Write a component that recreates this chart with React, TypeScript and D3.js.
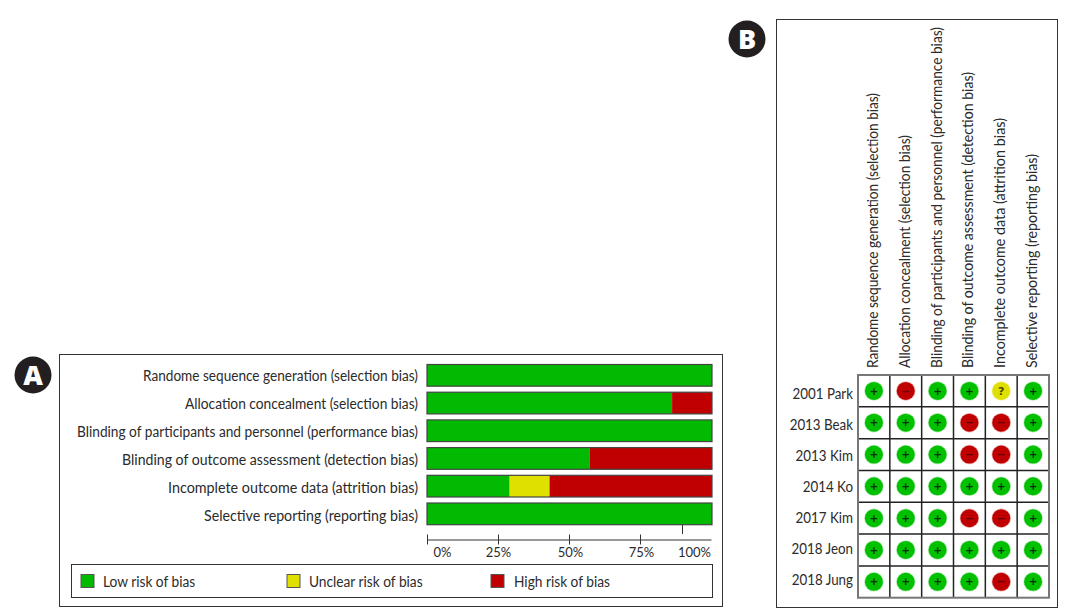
import React, { useEffect, useRef } from 'react';
import * as d3 from 'd3';

const domains = [
  'Randome sequence generation (selection bias)',
  'Allocation concealment (selection bias)',
  'Blinding of participants and personnel (performance bias)',
  'Blinding of outcome assessment (detection bias)',
  'Incomplete outcome data (attrition bias)',
  'Selective reporting (reporting bias)',
];

const lowRisk = [100, 86, 100, 57, 29, 100];
const unclearRisk = [0, 0, 0, 0, 14, 0];
const highRisk = [0, 14, 0, 43, 57, 0];

const axisTicks = [0, 25, 50, 75, 100];
const legendLabels = ['Low risk of bias', 'Unclear risk of bias', 'High risk of bias'];
const studies = ['2001 Park', '2013 Beak', '2013 Kim', '2014 Ko', '2017 Kim', '2018 Jeon', '2018 Jung'];
const judgements = [
  ['+', '-', '+', '+', '?', '+'],
  ['+', '+', '+', '-', '-', '+'],
  ['+', '+', '+', '-', '-', '+'],
  ['+', '+', '+', '+', '+', '+'],
  ['+', '+', '+', '-', '-', '+'],
  ['+', '+', '+', '+', '+', '+'],
  ['+', '+', '+', '+', '-', '+'],
];

const GREEN = '#02ba02';
const YELLOW = '#e0e000';
const RED = '#c00000';
const INK = '#2b2b2b';
const FONT = 'Lato, "Noto Sans", sans-serif';

// rendered label lengths in the figure, px (its spaces are wider than Lato's)
const domainLabelWidths = [275, 233, 341, 296, 250, 214];

const fill: Record<string, string> = { '+': '#00c000', '-': RED, '?': YELLOW };
const glyphColor: Record<string, string> = { '+': '#0a2a0a', '-': '#560606', '?': '#4a4a00' };

// the figure's typeface is narrower than Lato, so squeeze each label to fit
const narrow = (factor: number) => (sel: d3.Selection<any, any, any, any>) => {
  sel.each(function () {
    const node = this as SVGTextElement;
    node.setAttribute('textLength', String(node.getComputedTextLength() * factor));
    node.setAttribute('lengthAdjust', 'spacingAndGlyphs');
  });
};

const fitDomain = (sel: d3.Selection<any, any, any, any>) => {
  sel.attr('textLength', (_: string, i: number) => domainLabelWidths[i]).attr('lengthAdjust', 'spacingAndGlyphs');
};

const App = () => {
  const svgRef = useRef<SVGSVGElement>(null);

  useEffect(() => {
    const svg = d3.select(svgRef.current);
    svg.selectAll('*').remove();

    const badge = (cx: number, cy: number, t: string) => {
      svg.append('circle').attr('cx', cx).attr('cy', cy).attr('r', 18.5).attr('fill', '#231f20');
      svg.append('text').attr('x', cx).attr('y', cy + 9.5).attr('text-anchor', 'middle')
        .attr('font-family', '"Open Sans", sans-serif').attr('font-weight', 800).attr('font-size', 27)
        .attr('fill', '#fff').text(t);
    };
    badge(33, 375, 'A');
    badge(747, 39, 'B');

    // panel A: summary bars
    svg.append('rect').attr('x', 59.5).attr('y', 354.5).attr('width', 663).attr('height', 252)
      .attr('fill', '#fff').attr('stroke', '#333');

    const x = d3.scaleLinear().domain([0, 100]).range([427, 712]);
    const y = d3.scaleBand<number>().domain(d3.range(domains.length)).range([364.5, 524.7]).paddingInner(0.217).paddingOuter(0);
    const labelBaseline = d3.scalePoint<number>().domain(d3.range(domains.length)).range([381, 521]);

    const stack = d3.stack<number>().keys(['low', 'unclear', 'high'])
      .value((i, key) => (key === 'low' ? lowRisk[i] : key === 'unclear' ? unclearRisk[i] : highRisk[i]));
    const layers = stack(d3.range(domains.length));
    const colors = [GREEN, YELLOW, RED];

    const barsA = svg.append('g');
    layers.forEach((layer, k) => {
      barsA.selectAll(null).data(layer).enter().append('rect')
        .attr('x', d => x(d[0]))
        .attr('y', d => y(d.data)!)
        .attr('width', d => x(d[1]) - x(d[0]))
        .attr('height', y.bandwidth())
        .attr('fill', colors[k]);
    });
    barsA.selectAll(null).data(d3.range(domains.length)).enter().append('rect')
      .attr('x', x(0)).attr('y', d => y(d)!)
      .attr('width', x(100) - x(0)).attr('height', y.bandwidth())
      .attr('fill', 'none').attr('stroke', '#444').attr('stroke-width', 1.2);

    svg.append('g').selectAll('text').data(domains).enter().append('text')
      .attr('x', 418).attr('y', (_, i) => labelBaseline(i)!)
      .attr('text-anchor', 'end').attr('font-family', FONT).attr('font-size', 14.5).attr('fill', INK)
      .text(d => d).call(fitDomain);

    const axis = svg.append('g').attr('transform', 'translate(0,539.5)')
      .call(d3.axisBottom(d3.scaleLinear().domain([0, 100]).range([427, 711])).tickValues(axisTicks)
        .tickSize(5).tickSizeOuter(0).tickFormat(d => `${d}%`));
    axis.select('.domain').attr('stroke', '#333');
    axis.selectAll<SVGLineElement, number>('.tick line').attr('y1', -5).attr('stroke', '#333');
    axis.selectAll<SVGTextElement, number>('.tick text')
      .attr('font-family', FONT).attr('font-size', 13).attr('fill', INK).attr('y', 8)
      .attr('dx', d => (d === 0 ? 15 : d === 100 ? -17 : d === 25 ? 0 : 1));
    // the 100% tick sits up against the last bar in the original figure
    axis.selectAll<SVGLineElement, number>('.tick line').filter(d => d === 100)
      .attr('transform', 'translate(-29,-10)').attr('y1', -4.5).attr('y2', 4.5);

    // legend
    svg.append('rect').attr('x', 71.5).attr('y', 564.5).attr('width', 641).attr('height', 33)
      .attr('fill', '#fff').attr('stroke', '#333');
    const legendX = d3.scalePoint<string>().domain(legendLabels).range([81, 491]);
    legendLabels.forEach((label, k) => {
      const lx = legendX(label)! + (k === 1 ? 1 : 0);
      svg.append('rect').attr('x', lx).attr('y', 574.5).attr('width', 13).attr('height', 13)
        .attr('fill', colors[k]).attr('stroke', '#555');
      svg.append('text').attr('x', lx + (k === 2 ? 23 : 22)).attr('y', 586.5).attr('font-family', FONT)
        .attr('font-size', 14.5).attr('fill', INK).text(label).call(narrow(0.945));
    });

    // panel B: traffic light grid
    svg.append('rect').attr('x', 776.5).attr('y', 19.5).attr('width', 281).attr('height', 588)
      .attr('fill', '#fff').attr('stroke', '#333');

    const col = d3.scaleBand<number>().domain(d3.range(domains.length)).range([858, 1049]);
    const row = d3.scaleBand<string>().domain(studies).range([375, 597.7]);
    // study labels drift slightly above their rows in the original
    const labelY = d3.scalePoint<string>().domain(studies).range([394, 580]);

    svg.append('g').selectAll('text').data(domains).enter().append('text')
      .attr('transform', (_, i) => `translate(${col(i)! + col.bandwidth() / 2 + 4},368) rotate(-90)`)
      .attr('font-family', FONT).attr('font-size', 14.5).attr('fill', INK)
      .text(d => d).call(fitDomain);

    svg.append('g').selectAll('text').data(studies).enter().append('text')
      .attr('x', 853).attr('y', d => labelY(d)! + 5)
      .attr('text-anchor', 'end').attr('font-family', FONT).attr('font-size', 14.5).attr('fill', INK)
      .text(d => d).call(narrow(0.92));

    const gridG = svg.append('g').attr('stroke', '#222').attr('stroke-width', 1.5);
    d3.range(1, domains.length).forEach(i => {
      gridG.append('line').attr('x1', col(i)!).attr('x2', col(i)!).attr('y1', 375).attr('y2', 597.7);
    });
    studies.slice(1).forEach(s => {
      gridG.append('line').attr('x1', 858).attr('x2', 1049).attr('y1', row(s)!).attr('y2', row(s)!);
    });
    svg.append('rect').attr('x', 858).attr('y', 375).attr('width', 191).attr('height', 222.7)
      .attr('fill', 'none').attr('stroke', '#777').attr('stroke-width', 2);

    judgements.forEach((cells, r) => {
      cells.forEach((j, c) => {
        const cx = col(c)! + col.bandwidth() / 2;
        const cy = row(studies[r])! + row.bandwidth() / 2;
        svg.append('circle').attr('cx', cx).attr('cy', cy).attr('r', 9).attr('fill', fill[j])
          .attr('stroke', fill[j]).attr('stroke-opacity', 0.3).attr('stroke-width', 1.5);
        svg.append('text').attr('x', cx).attr('y', Math.round(cy + (j === '?' ? 4 : 3.7))).attr('text-anchor', 'middle')
          .attr('font-family', '"DejaVu Sans", sans-serif').attr('font-weight', 700)
          .attr('font-size', j === '?' ? 11 : 10).attr('fill', glyphColor[j])
          .text(j === '-' ? '\u2212' : j);
      });
    });
  }, []);

  return (
    <svg
      ref={svgRef}
      width={1065}
      height={615}
      style={{ position: 'absolute', left: 0, top: 0, background: '#fff' }}
    />
  );
};

export default App;
